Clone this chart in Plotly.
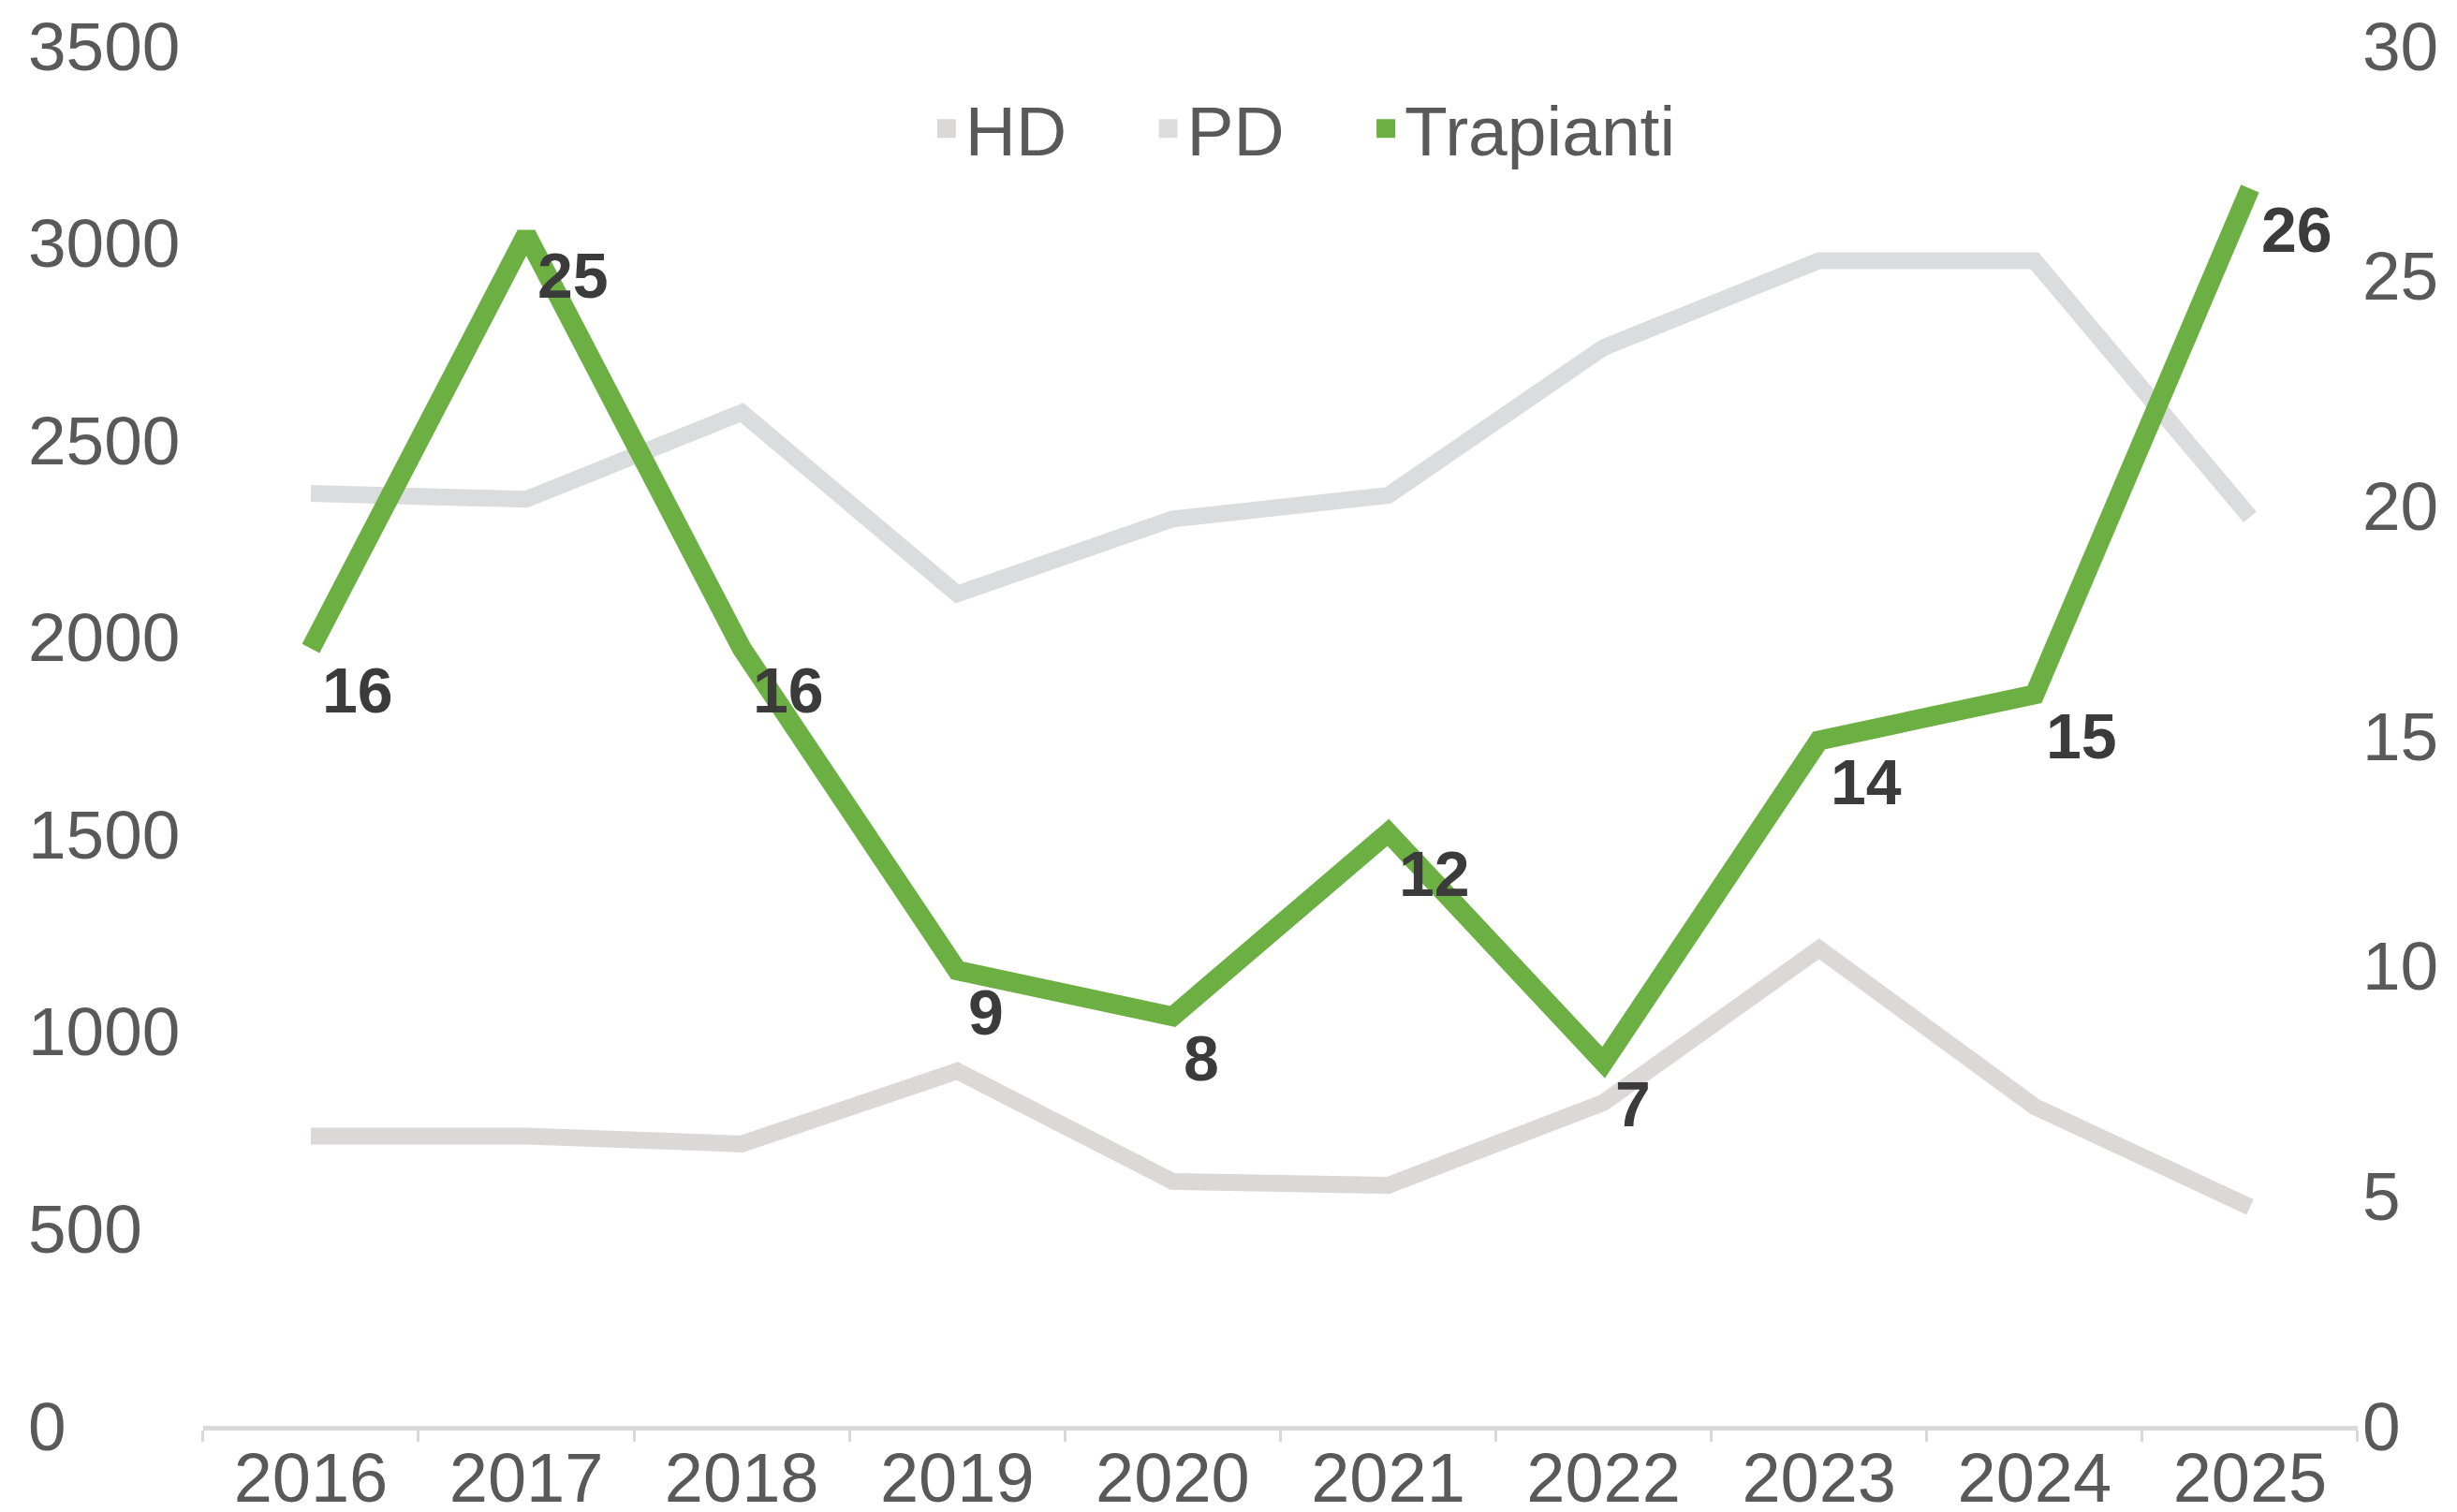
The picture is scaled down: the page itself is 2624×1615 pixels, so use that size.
import plotly.graph_objects as go

years = ["2016", "2017", "2018", "2019", "2020", "2021", "2022", "2023", "2024", "2025"]
hd = [735, 735, 715, 900, 620, 610, 820, 1210, 810, 555]
pd_vals = [2365, 2350, 2570, 2110, 2300, 2360, 2735, 2955, 2955, 2305]
trapianti = [16, 25, 16, 9, 8, 12, 7, 14, 15, 26]

left_ticks = [0, 500, 1000, 1500, 2000, 2500, 3000, 3500]
right_ticks = [0, 5, 10, 15, 20, 25, 30]

HD_COLOR = "#dcd8d7"
PD_COLOR = "#dadcde"
GREEN = "#6cb043"
TICK_COLOR = "#595959"
FONT = "Liberation Sans, Arial, sans-serif"
PAD = "\u00a0" * 4

fig = go.Figure()

fig.add_trace(go.Scatter(x=years, y=hd, mode="lines", name="HD", yaxis="y",
                         line=dict(color=HD_COLOR, width=18), showlegend=False,
                         hoverinfo="skip"))
fig.add_trace(go.Scatter(x=years, y=pd_vals, mode="lines", name="PD", yaxis="y",
                         line=dict(color=PD_COLOR, width=18), showlegend=False,
                         hoverinfo="skip"))
fig.add_trace(go.Scatter(x=years, y=trapianti, mode="lines", name="Trapianti", yaxis="y3",
                         line=dict(color=GREEN, width=21), showlegend=False,
                         hoverinfo="skip"))

# legend entries (square swatches, no plotted points)
for name, col in [("HD" + PAD, HD_COLOR), ("PD" + PAD, PD_COLOR), ("Trapianti", GREEN)]:
    fig.add_trace(go.Scatter(x=[years[0]], y=[None], mode="markers", name=name,
                             marker=dict(symbol="square", size=16, color=col,
                                         line=dict(color=col, width=4)),
                             showlegend=True, hoverinfo="skip"))

# right axis carrier
fig.add_trace(go.Scatter(x=[years[0]], y=[right_ticks[0]], yaxis="y2", mode="markers",
                         marker=dict(opacity=0), showlegend=False, hoverinfo="skip"))

for i, v in enumerate(trapianti):
    fig.add_annotation(x=i, y=v, xref="x", yref="y3", text=str(v),
                       showarrow=False, xanchor="left", yanchor="middle",
                       xshift=10, yshift=-44,
                       font=dict(family=FONT, size=68, color="#3b3b3b", weight="bold"))

fig.update_layout(
    width=2624, height=1615,
    margin=dict(l=18, r=114, t=41, b=100),
    paper_bgcolor="white", plot_bgcolor="white",
    font=dict(family=FONT, size=74, color=TICK_COLOR),
    xaxis=dict(domain=[0.0766, 1.0], type="category", categoryorder="array",
               categoryarray=years, range=[-0.5, len(years) - 0.5],
               showgrid=False, tickangle=0, automargin=False,
               showline=True, linecolor="#d9d9d9", linewidth=5,
               ticks="outside", tickson="boundaries", ticklen=12, tickwidth=3,
               tickcolor="#d9d9d9", ticklabelstandoff=-13,
               tickfont=dict(size=74, color=TICK_COLOR, family=FONT)),
    yaxis=dict(range=[0, 3500], tickvals=left_ticks, showgrid=False, zeroline=False,
               showline=False, anchor="free", position=0, ticklabelposition="inside",
               ticklabeloverflow="allow", automargin=False,
               tickfont=dict(size=73, color=TICK_COLOR, family=FONT)),
    yaxis2=dict(range=[0, 30], tickvals=right_ticks, overlaying="y", side="right",
                anchor="x", showgrid=False, zeroline=False, showline=False,
                ticklabelstandoff=4, automargin=False, ticklabeloverflow="allow",
                tickfont=dict(size=73, color=TICK_COLOR, family=FONT)),
    yaxis3=dict(range=[-0.9, 29.1], overlaying="y", visible=False, anchor="x"),
    legend=dict(orientation="h", x=0.5485, xanchor="center", y=0.94, yanchor="middle",
                bgcolor="rgba(0,0,0,0)",
                font=dict(size=75, color=TICK_COLOR, family=FONT)),
)

fig.write_html("out.html")
